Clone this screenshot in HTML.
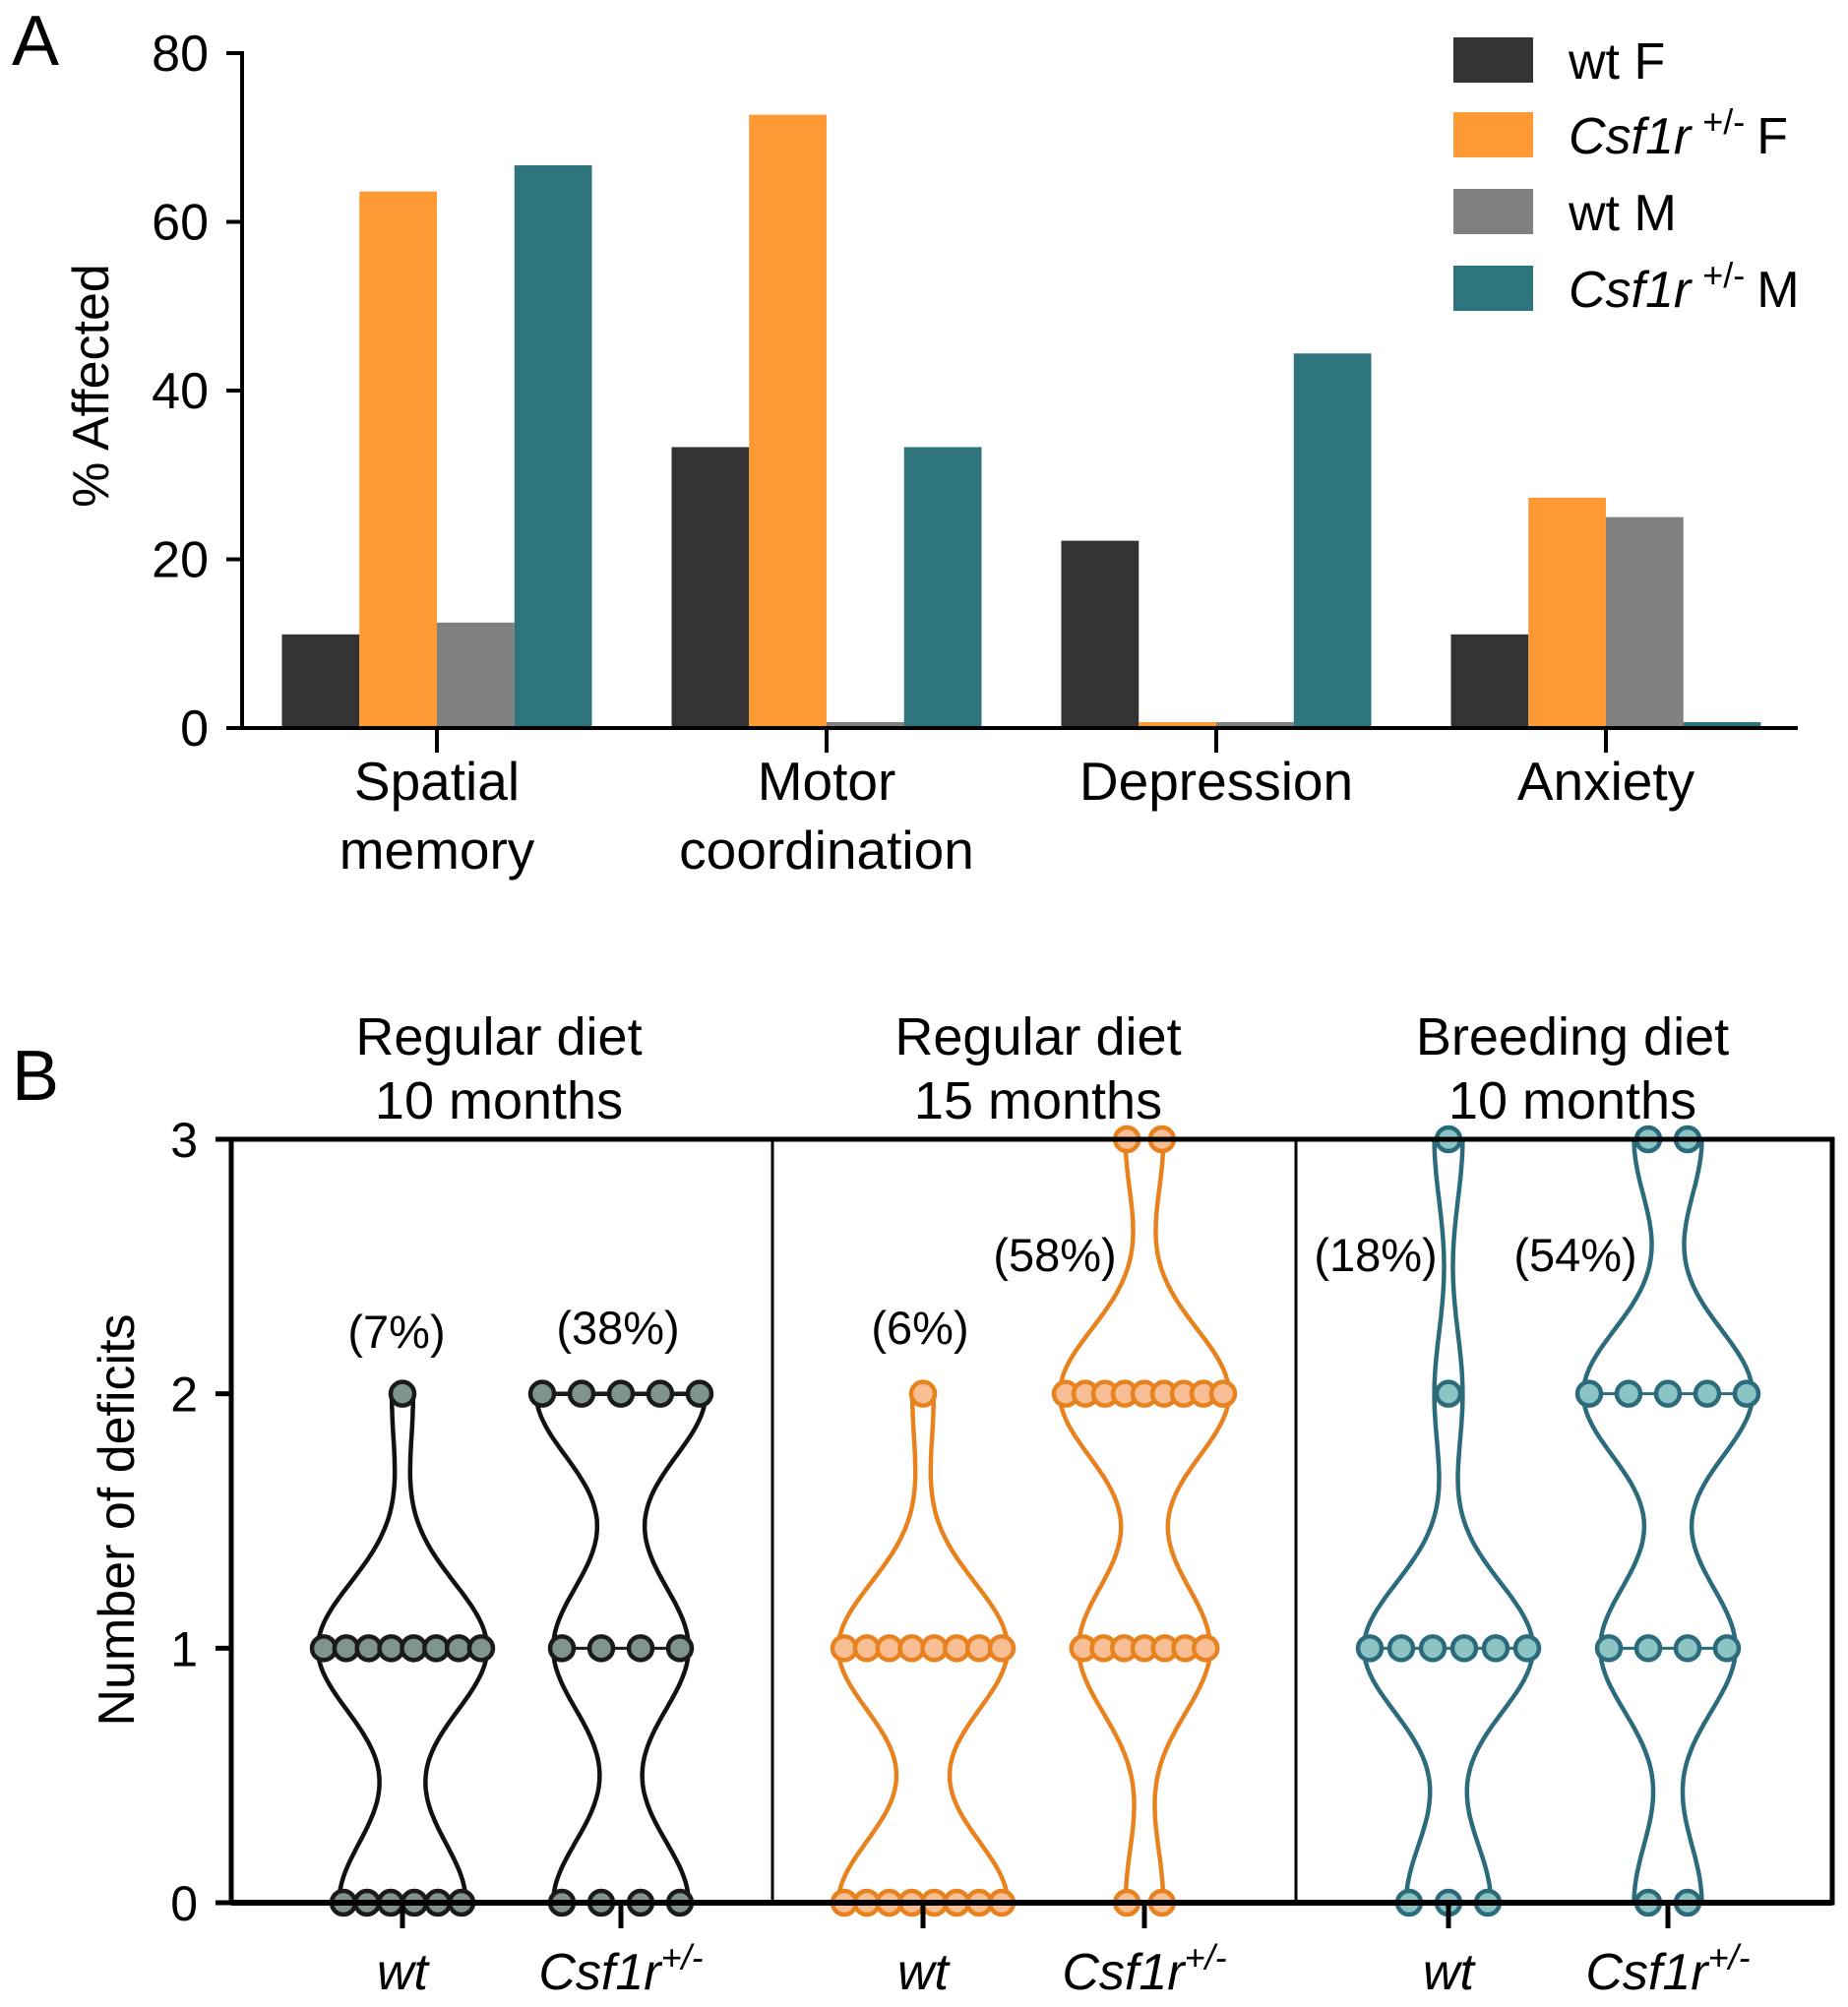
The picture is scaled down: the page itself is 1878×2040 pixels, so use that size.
<!DOCTYPE html>
<html><head><meta charset="utf-8"><style>
html,body{margin:0;padding:0;background:#fff;}
svg{display:block;font-family:"Liberation Sans",Arial,sans-serif;}
</style></head><body>
<svg id="fig" width="1878" height="2040" viewBox="0 0 1878 2040" xmlns="http://www.w3.org/2000/svg">
<g id="panelA"></g>
<g id="panelB"></g>
</svg>
<script>
// ---------- Panel A data ----------
const catsA = [["Spatial","memory"],["Motor","coordination"],["Depression"],["Anxiety"]];
const seriesNamesA = ["wt F","Csf1r F","wt M","Csf1r M"];
const wtF = [11.1, 33.3, 22.2, 11.1];
const csfF = [63.6, 72.7, 0, 27.3];
const wtM = [12.5, 0, 0, 25.0];
const csfM = [66.7, 33.3, 44.4, 0];
const ticksA = [0,20,40,60,80];
// ---------- Panel B data (counts of animals at each deficit level 0,1,2,3) ----------
const groupTitles = [["Regular diet","10 months"],["Regular diet","15 months"],["Breeding diet","10 months"]];
const violinLabels = ["wt","Csf1r","wt","Csf1r","wt","Csf1r"];
const levels = [0,1,2,3];
const countsWt10 = [6,8,1,0];
const countsCsf10 = [4,4,5,0];
const countsWt15 = [8,8,1,0];
const countsCsf15 = [2,7,9,2];
const countsWtB = [3,6,1,1];
const countsCsfB = [2,4,5,2];
const percentLabels = ["(7%)","(38%)","(6%)","(58%)","(18%)","(54%)"];
const ticksB = [0,1,2,3];

const NS="http://www.w3.org/2000/svg";
function mk(tag,attrs,parent){const e=document.createElementNS(NS,tag);for(const k in attrs)e.setAttribute(k,attrs[k]);parent.appendChild(e);return e;}

// ---------- Panel A ----------
(function(){
const g=document.getElementById('panelA');
const x0=246,x1=1827,yb=740,yt=54;
const yA=v=>yb-(v/80)*(yb-yt);
const catX=i=>444+i*396;
const barW=78.75;
const colors=["#333333","#ff9933","#808080","#2e747c"];
const series=[wtF,csfF,wtM,csfM];
let t=mk('text',{x:12,y:66,'font-size':72},g);t.textContent='A';


series.forEach((s,si)=>{
  s.forEach((v,ci)=>{
    const x=catX(ci)-2*barW+si*barW;
    const h=Math.max(yb-yA(v),6);
    const r=mk('rect',{x:x,y:yb-h,width:barW,height:h,fill:colors[si]},g);
    
    
  });
});
let ax=mk('line',{x1:x0,y1:yt-2,x2:x0,y2:yb+2,stroke:'#000','stroke-width':4},g);

let bx=mk('line',{x1:x0-2,y1:yb,x2:x1,y2:yb,stroke:'#000','stroke-width':4},g);

ticksA.forEach(v=>{
  mk('line',{x1:x0-16,y1:yA(v),x2:x0,y2:yA(v),stroke:'#000','stroke-width':4},g);
  const tl=mk('text',{x:x0-34,y:yA(v)+18,'font-size':52,'text-anchor':'end'},g);tl.textContent=v;
  
  
});
catsA.forEach((c,i)=>{
  mk('line',{x1:catX(i),y1:yb,x2:catX(i),y2:yb+25,stroke:'#000','stroke-width':4},g);
  c.forEach((line,li)=>{
    const tl=mk('text',{x:catX(i),y:813+li*70,'font-size':55,'text-anchor':'middle'},g);tl.textContent=line;
    
    
  });
});
const yt2=mk('text',{x:0,y:0,'font-size':52,'text-anchor':'middle',transform:'translate(110,392) rotate(-90)'},g);
yt2.textContent='% Affected';


// legend
const legY=[62,138,216,294];
seriesNamesA.forEach((n,i)=>{
  const r=mk('rect',{x:1477,y:legY[i]-24,width:81,height:46,fill:colors[i]},g);
  
  
  const tx=mk('text',{x:1594,y:legY[i]+18,'font-size':52},g);
  
  
  if(n.startsWith('Csf1r')){
    tx.innerHTML='<tspan font-style="italic">Csf1r</tspan><tspan dx="12" dy="-20" font-size="36">+/-</tspan><tspan dx="12" dy="20">'+n.split(' ')[1]+'</tspan>';
  } else tx.textContent=n;
});
})();

// ---------- Panel B ----------
(function(){
const g=document.getElementById('panelB');
const bx0=235,bx1=1862,by0=1934,by3=1158;
const yB=v=>by0-(v/3)*(by0-by3);
const vx=i=>[409,631,938,1163,1472,1695][i];
const allCounts=[countsWt10,countsCsf10,countsWt15,countsCsf15,countsWtB,countsCsfB];
const strokes=["#111111","#111111","#e8821e","#e8821e","#2c6b7c","#2c6b7c"];
const dotStrokes=["#1a1a1a","#1a1a1a","#e8821e","#e8821e","#2c6b7c","#2c6b7c"];
const fills=["#7f958b","#7f958b","#f7bf93","#f7bf93","#8cc3c3","#8cc3c3"];
let t=mk('text',{x:12,y:1118,'font-size':72},g);t.textContent='B';


const gx=[507,1055,1598];
groupTitles.forEach((tt,i)=>{tt.forEach((line,li)=>{
  const e=mk('text',{x:gx[i],y:1072+li*65,'font-size':54,'text-anchor':'middle'},g);e.textContent=line;
  
  
});});
const h=0.26, maxHW=86;
allCounts.forEach((counts,vi)=>{
  const cx=vx(vi);
  let lo=3,hi=0;counts.forEach((c,l)=>{if(c>0){lo=Math.min(lo,levels[l]);hi=Math.max(hi,levels[l]);}});
  const dens=y=>{let s=0;counts.forEach((c,l)=>{s+=c*Math.exp(-0.5*Math.pow((y-levels[l])/h,2));});return s;};
  let mx=0;const N=120;const pts=[];
  for(let k=0;k<=N;k++){const y=lo+(hi-lo)*k/N;const d=dens(y);pts.push([y,d]);mx=Math.max(mx,d);}
  const hw=y=>dens(y)/mx*maxHW;
  let dR='',dL='';
  pts.forEach((p,k)=>{const w=p[1]/mx*maxHW;dR+=(k?'L':'M')+(cx+w).toFixed(1)+','+yB(p[0]).toFixed(1);});
  for(let k=pts.length-1;k>=0;k--){const w=pts[k][1]/mx*maxHW;dL+='L'+(cx-w).toFixed(1)+','+yB(pts[k][0]).toFixed(1);}
  const path=mk('path',{d:dR+dL+'Z',fill:'none',stroke:strokes[vi],'stroke-width':4.5,'stroke-linejoin':'round'},g);
  
  
  counts.forEach((c,l)=>{
    if(!c)return;
    const w=hw(levels[l]);
    const sp=c>1?Math.min(2*w*0.93/(c-1),40):0, start=cx-(c-1)*sp/2;
    if(c>1)mk('line',{x1:start,y1:yB(levels[l]),x2:start+(c-1)*sp,y2:yB(levels[l]),stroke:dotStrokes[vi],'stroke-width':3},g);
    for(let k=0;k<c;k++){
      const dot=mk('circle',{cx:start+k*sp,cy:yB(levels[l]),r:12,fill:fills[vi],stroke:dotStrokes[vi],'stroke-width':4.5},g);
      
      
    }
  });
  mk('line',{x1:cx,y1:by0,x2:cx,y2:by0+26,stroke:'#000','stroke-width':5},g);
  const lab=mk('text',{x:cx,y:2022,'font-size':52,'text-anchor':'middle','font-style':'italic'},g);
  
  
  if(violinLabels[vi]==='Csf1r') lab.innerHTML='Csf1r<tspan dy="-20" font-size="36" font-style="italic">+/-</tspan>';
  else lab.textContent=violinLabels[vi];
});
const pct=[[403,1370],[628,1366],[935,1366],[1072,1292],[1398,1292],[1601,1292]];
percentLabels.forEach((p,i)=>{
  const e=mk('text',{x:pct[i][0],y:pct[i][1],'font-size':47,'text-anchor':'middle'},g);e.textContent=p;
  
  
});
const fr=mk('rect',{x:bx0,y:by3,width:bx1-bx0,height:by0-by3,fill:'none',stroke:'#000','stroke-width':5},g);


[785,1317].forEach(x=>{const l=mk('line',{x1:x,y1:by3,x2:x,y2:by0,stroke:'#000','stroke-width':3},g);
  });
mk('line',{x1:bx0,y1:by0,x2:bx1,y2:by0,stroke:'#000','stroke-width':6},g);
ticksB.forEach(v=>{
  mk('line',{x1:bx0-16,y1:yB(v),x2:bx0,y2:yB(v),stroke:'#000','stroke-width':5},g);
  const tl=mk('text',{x:bx0-34,y:yB(v)+18,'font-size':50,'text-anchor':'end'},g);tl.textContent=v;
  
  
});
const yt=mk('text',{x:0,y:0,'font-size':52,'text-anchor':'middle',transform:'translate(136,1545) rotate(-90)'},g);
yt.textContent='Number of deficits';


})();
</script>
</body></html>
